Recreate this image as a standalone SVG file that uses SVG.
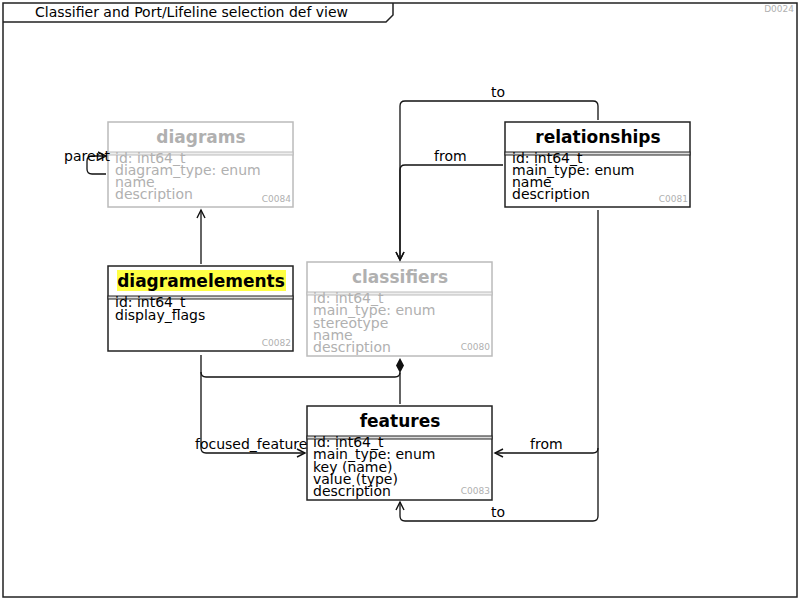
<svg xmlns="http://www.w3.org/2000/svg" width="800" height="600" viewBox="0 0 800 600">
<defs>
<style>
text{font-family:"DejaVu Sans",sans-serif;font-size:14px;fill:#000}
.t{font-weight:bold;font-size:17px;text-anchor:middle}
.g{fill:#b0b0b0}
.id{font-size:9px;fill:#b0b0b0;text-anchor:end}
.box{fill:#fff;stroke:#222;stroke-width:1.5}
.gbox{fill:#fff;stroke:#bbb;stroke-width:1.5}
.sep{fill:#ddd;stroke:#222;stroke-width:1}
.gsep{fill:#eee;stroke:#bbb;stroke-width:1}
.c{fill:none;stroke:#111;stroke-width:1.3}
</style>
<marker id="open" markerWidth="12" markerHeight="12" refX="9" refY="5" orient="auto" markerUnits="userSpaceOnUse" viewBox="0 0 12 10">
<path d="M1,1 L9,5 L1,9" fill="none" stroke="#111" stroke-width="1.4"/>
</marker>
<marker id="fill" markerWidth="10" markerHeight="10" refX="8" refY="5" orient="auto" markerUnits="userSpaceOnUse" viewBox="0 0 10 10">
<path d="M1,1 L9,5 L1,9 z" fill="#111"/>
</marker>
</defs>
<rect width="800" height="600" fill="#fff"/>
<g id="frame">
<rect x="3" y="3" width="794" height="594" fill="none" stroke="#222" stroke-width="1.5"/>
<path d="M3,22 L386,22 L393,15 L393,3" fill="none" stroke="#222" stroke-width="1.5"/>
<text x="35" y="17">Classifier and Port/Lifeline selection def view</text>
<text x="794" y="12" class="id">D0024</text>
</g>
<g id="diagrams">
<rect x="108" y="122" width="185" height="85" class="gbox"/>
<text x="201" y="143" class="t g">diagrams</text>
<rect x="108" y="152" width="185" height="3" class="gsep"/>
<text x="115" y="163" class="g">id: int64_t</text>
<text x="115" y="175" class="g">diagram_type: enum</text>
<text x="115" y="187" class="g">name</text>
<text x="115" y="199" class="g">description</text>
<text x="291" y="202" class="id">C0084</text>
</g>
<g id="relationships">
<rect x="505" y="122" width="185" height="85" class="box"/>
<text x="598" y="143" class="t">relationships</text>
<rect x="505" y="152" width="185" height="3" class="sep"/>
<text x="512" y="163">id: int64_t</text>
<text x="512" y="175">main_type: enum</text>
<text x="512" y="187">name</text>
<text x="512" y="199">description</text>
<text x="688" y="202" class="id">C0081</text>
</g>
<g id="diagramelements">
<rect x="108" y="266" width="185" height="85" class="box"/>
<rect x="117" y="270" width="169" height="21" fill="#ffff44"/>
<text x="201" y="287" class="t">diagramelements</text>
<rect x="108" y="296" width="185" height="3" class="sep"/>
<text x="115" y="307">id: int64_t</text>
<text x="115" y="320">display_flags</text>
<text x="291" y="346" class="id">C0082</text>
</g>
<g id="classifiers">
<rect x="307" y="262" width="185" height="94" class="gbox"/>
<text x="400" y="283" class="t g">classifiers</text>
<rect x="307" y="292" width="185" height="3" class="gsep"/>
<text x="313" y="303" class="g">id: int64_t</text>
<text x="313" y="315" class="g">main_type: enum</text>
<text x="313" y="328" class="g">stereotype</text>
<text x="313" y="340" class="g">name</text>
<text x="313" y="352" class="g">description</text>
<text x="490" y="350" class="id">C0080</text>
</g>
<g id="features">
<rect x="307" y="406" width="185" height="94" class="box"/>
<text x="400" y="427" class="t">features</text>
<rect x="307" y="436" width="185" height="3" class="sep"/>
<text x="313" y="447">id: int64_t</text>
<text x="313" y="459">main_type: enum</text>
<text x="313" y="472">key (name)</text>
<text x="313" y="484">value (type)</text>
<text x="313" y="496">description</text>
<text x="490" y="494" class="id">C0083</text>
</g>
<g id="connectors">
<path class="c" d="M201,264 L201,210" marker-end="url(#open)"/>
<path class="c" d="M106,174 L92,174 Q87,174 87,169 L87,161 Q87,156 92,156 L106,156" marker-end="url(#open)"/>
<text x="64" y="161">parent</text>
<path class="c" d="M598,120 L598,106 Q598,101 593,101 L405,101 Q400,101 400,106 L400,260" marker-end="url(#open)"/>
<text x="491" y="97">to</text>
<path class="c" d="M503,165 L405,165 Q400,165 400,170 L400,260" marker-end="url(#open)"/>
<text x="434" y="161">from</text>
<path class="c" d="M598,210 L598,448 Q598,453 593,453 L495,453" marker-end="url(#open)"/>
<text x="530" y="449">from</text>
<path class="c" d="M598,448 L598,516 Q598,521 593,521 L405,521 Q400,521 400,516 L400,502" marker-end="url(#open)"/>
<text x="491" y="517">to</text>
<path class="c" d="M201,355 L201,372 Q201,377 206,377 L395,377 Q400,377 400,372"/>
<path class="c" d="M400,404 L400,373"/>
<path d="M400,358 L404,365.5 L400,373 L396,365.5 z" fill="#111"/>
<path class="c" d="M201,372 L201,448 Q201,453 206,453 L305,453" marker-end="url(#open)"/>
<text x="195" y="449">focused_feature</text>
</g>
</svg>
